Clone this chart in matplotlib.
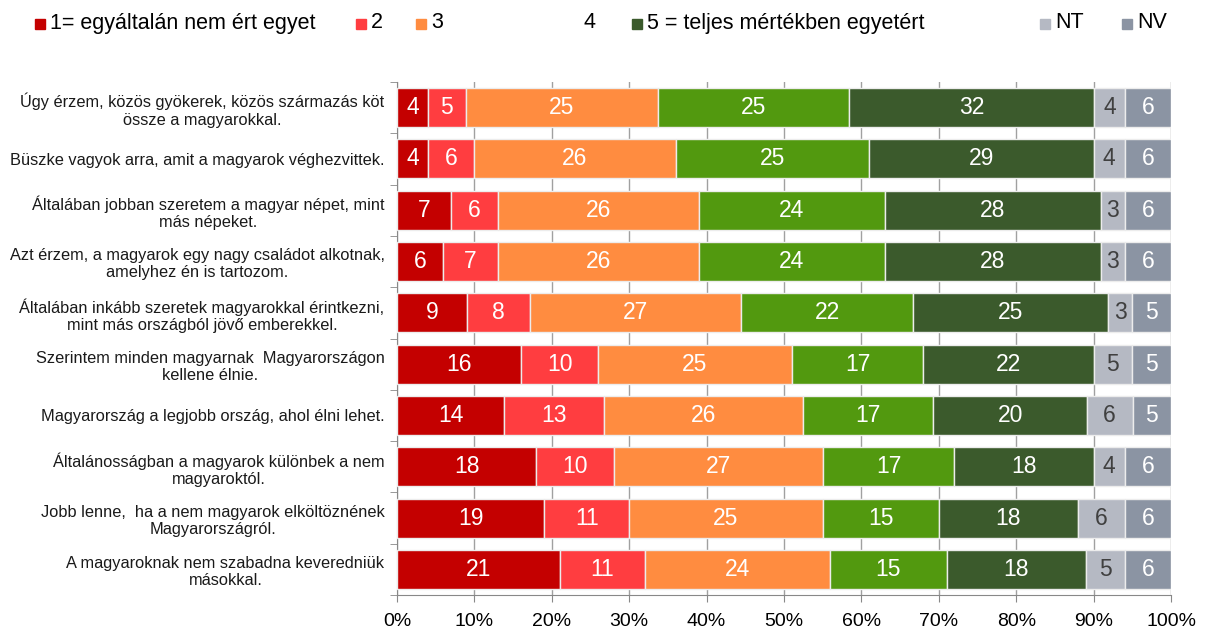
import matplotlib
matplotlib.use('Agg')
import matplotlib.pyplot as plt
import numpy as np

plt.rcParams['font.family'] = ['Liberation Sans', 'DejaVu Sans']

statements = [
    'Úgy érzem, közös gyökerek, közös származás köt\nössze a magyarokkal.',
    'Büszke vagyok arra, amit a magyarok véghezvittek.',
    'Általában jobban szeretem a magyar népet, mint\nmás népeket.',
    'Azt érzem, a magyarok egy nagy családot alkotnak,\namelyhez én is tartozom.',
    'Általában inkább szeretek magyarokkal érintkezni,\nmint más országból jövő emberekkel.',
    'Szerintem minden magyarnak  Magyarországon\nkellene élnie.',
    'Magyarország a legjobb ország, ahol élni lehet.',
    'Általánosságban a magyarok különbek a nem\nmagyaroktól.',
    'Jobb lenne,  ha a nem magyarok elköltöznének\nMagyarországról.',
    'A magyaroknak nem szabadna keveredniük\nmásokkal.',
]

answers = ['1= egyáltalán nem ért egyet', '2', '3', '4',
           '5 = teljes mértékben egyetért', 'NT', 'NV']

v1 = [4, 4, 7, 6, 9, 16, 14, 18, 19, 21]
v2 = [5, 6, 6, 7, 8, 10, 13, 10, 11, 11]
v3 = [25, 26, 26, 26, 27, 25, 26, 27, 25, 24]
v4 = [25, 25, 24, 24, 22, 17, 17, 17, 15, 15]
v5 = [32, 29, 28, 28, 25, 22, 20, 18, 18, 18]
nt = [4, 4, 3, 3, 3, 5, 6, 4, 6, 5]
nv = [6, 6, 6, 6, 5, 5, 5, 6, 6, 6]

colors = ['#c40000', '#ff3d40', '#ff8c40', '#52990f', '#3b5a2c', '#b5b9c3', '#8b94a3']
text_colors = ['white', 'white', 'white', 'white', 'white', '#404040', 'white']

data = np.array([v1, v2, v3, v4, v5, nt, nv], dtype=float)
shares = data / data.sum(axis=0) * 100

W, H = 1205, 633
fig = plt.figure(figsize=(W / 100, H / 100), dpi=100)
ax = fig.add_axes([397 / W, 1 - 595 / H, (1171 - 397) / W, (595 - 82) / H])

y = np.arange(len(statements))
left = np.zeros(len(statements))
for i in range(len(answers)):
    ax.barh(y, shares[i], left=left, height=0.76, color=colors[i],
            edgecolor='#ececec', linewidth=1, zorder=3)
    for j in range(len(statements)):
        ax.text(left[j] + shares[i][j] / 2, y[j], '%d' % data[i][j],
                ha='center', va='center', fontsize=16.5, color=text_colors[i], zorder=4)
    left += shares[i]

ax.set_xlim(0, 100)
ax.set_ylim(len(statements) - 0.5, -0.5)
ax.set_xticks(np.arange(0, 101, 10))
ax.set_xticklabels(['%d%%' % t for t in range(0, 101, 10)], fontsize=14)
ax.set_yticks(y)
ax.set_yticklabels(statements, fontsize=11.8, color='#1a1a1a')
for lab in ax.get_yticklabels():
    lab.set_multialignment('center')
ax.set_yticks(np.arange(-0.5, len(statements), 1), minor=True)
ax.tick_params(axis='y', which='major', length=0, pad=9)
ax.tick_params(axis='y', which='minor', length=5, color='#888888')
ax.tick_params(axis='x', length=5, color='#888888', pad=8)
ax.xaxis.grid(True, color='#a0a0a0', linewidth=1, zorder=0)
ax.set_axisbelow(True)
for s in ['top', 'right']:
    ax.spines[s].set_visible(False)
for s in ['left', 'bottom']:
    ax.spines[s].set_color('#888888')

# legend row drawn by hand to keep the original spacing
marker_x = [35, 356, 416, 568, 632, 1040, 1122]
for i in range(len(answers)):
    mx = marker_x[i] / W
    if answers[i] != '4':
        fig.patches.append(plt.Rectangle((mx, 1 - 29 / H), 10 / W, 10 / H,
                                         transform=fig.transFigure, color=colors[i]))
    fig.text(mx + 15 / W, 1 - 23 / H, answers[i], fontsize=15.5, va='center', ha='left')

fig.savefig('out.png', dpi=100)
